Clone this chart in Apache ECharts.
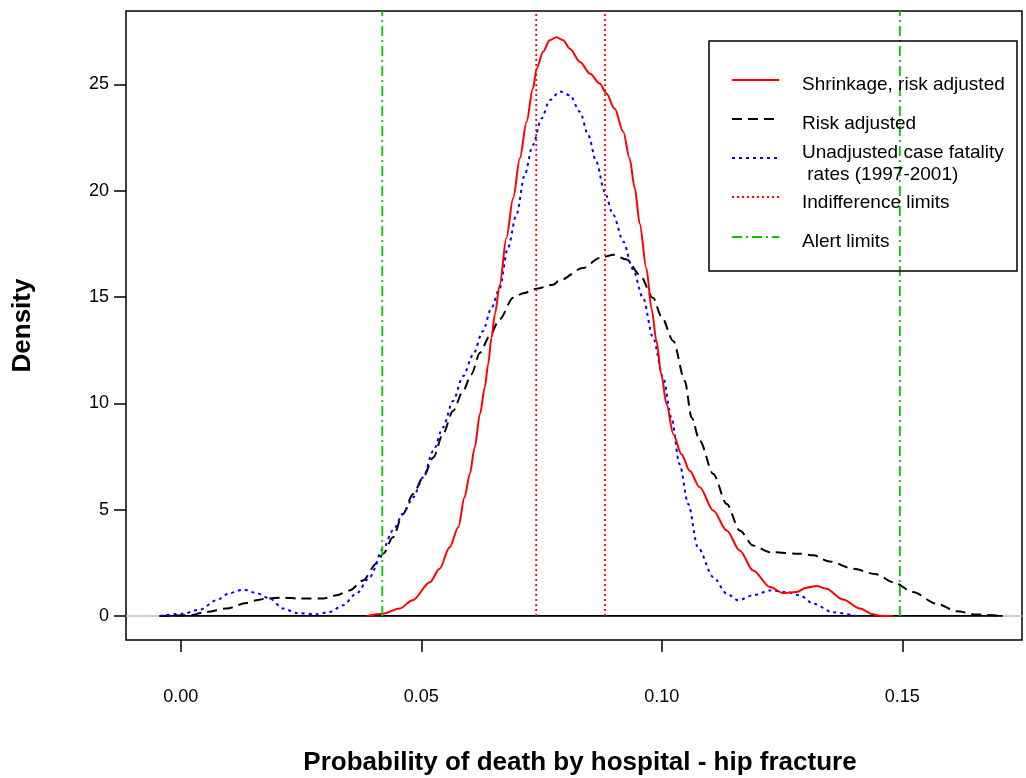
<!DOCTYPE html>
<html>
<head>
<meta charset="utf-8">
<script src="https://cdn.jsdelivr.net/npm/echarts@6/dist/echarts.min.js"></script>
<style>html,body{margin:0;padding:0;background:#fff}#c{width:1026px;height:778px}</style>
</head>
<body>
<div id="c"></div>
<script>
// ---------- data ----------
const xTicks = [0, 0.05, 0.10, 0.15];
const yTicks = [0, 5, 10, 15, 20, 25];
const xRange = [-0.01138, 0.17489];
const yRange = [-1.13, 28.45];

const shrinkX = [0.0387,0.0420,0.0455,0.0482,0.0518,0.0538,0.0559,0.0577,0.0590,0.0601,0.0611,0.0622,0.0632,0.0639,0.0646,0.0653,0.0663,0.0677,0.0691,0.0705,0.0719,0.0732,0.0740,0.0753,0.0767,0.0781,0.0795,0.0809,0.0830,0.0851,0.0871,0.0885,0.0902,0.0920,0.0933,0.0944,0.0954,0.0968,0.0979,0.0989,0.0999,0.1010,0.1024,0.1041,0.1058,0.1079,0.1107,0.1135,0.1162,0.1190,0.1225,0.1252,0.1280,0.1301,0.1322,0.1342,0.1377,0.1412,0.1439,0.1453,0.1480];
const shrinkY = [0,0.11,0.35,0.74,1.59,2.22,3.23,4.17,5.58,6.68,7.92,9.49,10.74,11.83,13.08,14.18,15.55,17.77,19.64,21.52,23.24,24.80,25.74,26.52,27.07,27.22,27.07,26.68,26.05,25.50,25.04,24.57,23.86,22.77,21.52,20.11,18.46,16.35,14.43,12.93,11.36,9.96,8.55,7.61,6.83,6.05,4.96,4.02,3.08,2.14,1.36,1.08,1.13,1.33,1.41,1.28,0.77,0.35,0.08,0.01,0];

const riskX = [-0.0044,0.0019,0.0053,0.0095,0.0137,0.0157,0.0178,0.0213,0.0247,0.0296,0.0324,0.0351,0.0379,0.0407,0.0421,0.0441,0.0462,0.0483,0.0504,0.0525,0.0545,0.0566,0.0587,0.0604,0.0622,0.0642,0.0663,0.0691,0.0712,0.0740,0.0774,0.0788,0.0836,0.0871,0.0899,0.0927,0.0954,0.0982,0.0999,0.1024,0.1048,0.1062,0.1079,0.1107,0.1135,0.1162,0.1190,0.1225,0.1287,0.1315,0.1349,0.1398,0.1446,0.1481,0.1522,0.1571,0.1613,0.1654,0.1709];
const riskY = [0,0.03,0.19,0.35,0.61,0.74,0.82,0.86,0.82,0.82,0.97,1.20,1.67,2.47,2.93,3.70,4.80,5.74,6.52,7.45,8.55,9.64,10.58,11.36,12.38,13.16,13.96,14.96,15.18,15.39,15.58,15.79,16.36,16.83,16.99,16.76,16.05,14.96,14.10,12.93,11.05,9.33,8.24,6.68,5.27,4.02,3.31,3.00,2.93,2.85,2.56,2.22,1.96,1.59,1.13,0.58,0.22,0.07,0];

const unadjX = [-0.0044,0.0005,0.0040,0.0074,0.0102,0.0130,0.0157,0.0185,0.0213,0.0241,0.0282,0.0310,0.0337,0.0365,0.0393,0.0421,0.0441,0.0462,0.0483,0.0504,0.0525,0.0545,0.0566,0.0587,0.0608,0.0628,0.0646,0.0663,0.0680,0.0698,0.0715,0.0732,0.0750,0.0767,0.0788,0.0809,0.0830,0.0847,0.0864,0.0881,0.0899,0.0920,0.0940,0.0961,0.0982,0.1003,0.1020,0.1037,0.1055,0.1075,0.1107,0.1135,0.1159,0.1190,0.1225,0.1259,0.1287,0.1315,0.1356,0.1405];
const unadjY = [0,0.11,0.30,0.74,1.08,1.24,1.08,0.82,0.35,0.14,0.08,0.19,0.50,1.05,1.83,3.17,4.02,4.80,5.58,6.52,7.77,8.86,10.11,11.28,12.30,13.39,14.49,15.42,17.30,18.87,20.74,22.15,23.39,24.26,24.66,24.49,23.71,22.62,21.36,19.96,18.87,17.61,16.30,14.96,13.08,11.20,9.33,7.14,5.27,3.23,1.83,1.05,0.74,0.97,1.20,1.13,0.97,0.58,0.17,0];

const indifferenceLimits = [0.0739, 0.0882];
const alertLimits = [0.0419, 0.1495];

const legendLabels = ['Shrinkage, risk adjusted', 'Risk adjusted', 'Unadjusted case fatality\n rates (1997-2001)', 'Indifference limits', 'Alert limits'];
const xTitle = 'Probability of death by hospital - hip fracture';
const yTitle = 'Density';

// ---------- build ----------
const zip = (xs, ys) => xs.map((x, i) => [x, ys[i]]);
const FONT = '"Liberation Sans", Arial, sans-serif';

const vline = (x, color, type, name) => ({
  type: 'line', name, data: [[x, 0], [x, yRange[1]]], symbol: 'none',
  lineStyle: { color, width: 1.8, type }, silent: true, z: 4
});

const series = [
  { type: 'line', name: 'zero', data: [[xRange[0], 0], [xRange[1], 0]], symbol: 'none',
    lineStyle: { color: '#bebebe', width: 1.5 }, z: 1, silent: true },
  { type: 'line', name: 'support', data: [[riskX[0], 0], [riskX[riskX.length - 1], 0]], symbol: 'none',
    lineStyle: { color: '#000', width: 1.8 }, z: 2, silent: true },
  { type: 'line', name: legendLabels[1], data: zip(riskX, riskY), symbol: 'none', smooth: 0.3, smoothMonotone: 'x',
    lineStyle: { color: '#000', width: 2, type: [10, 6] }, z: 3 },
  { type: 'line', name: legendLabels[2], data: zip(unadjX, unadjY), symbol: 'none', smooth: 0.3, smoothMonotone: 'x',
    lineStyle: { color: '#0000ff', width: 2, type: [3, 4] }, z: 3 },
  { type: 'line', name: legendLabels[0], data: zip(shrinkX, shrinkY), symbol: 'none', smooth: 0.3, smoothMonotone: 'x',
    lineStyle: { color: '#ff0000', width: 2 }, z: 3 }
];
indifferenceLimits.forEach(x => series.push(vline(x, '#ff0000', [2, 3], legendLabels[3])));
alertLimits.forEach(x => series.push(vline(x, '#00cd00', [10, 4, 2, 4], legendLabels[4])));

// legend (drawn as graphic)
const LX = 709, LY = 41, LW = 308, LH = 230;
const legendRows = [
  { lineY: 80, textY: 85, color: '#ff0000', dash: null },
  { lineY: 119, textY: 124, color: '#000', dash: [10, 6] },
  { lineY: 158, textY: 164, color: '#0000ff', dash: [3, 4] },
  { lineY: 197, textY: 203, color: '#ff0000', dash: [2, 3] },
  { lineY: 237, textY: 242, color: '#00cd00', dash: [10, 4, 2, 4] }
];
const graphic = [{ type: 'rect', shape: { x: LX, y: LY, width: LW, height: LH },
  style: { fill: 'none', stroke: '#000', lineWidth: 1.5 }, z: 10 }];
legendRows.forEach((r, i) => {
  graphic.push({ type: 'line', shape: { x1: 732, y1: r.lineY, x2: 779, y2: r.lineY },
    style: { stroke: r.color, lineWidth: 2, lineDash: r.dash || null }, z: 10 });
  graphic.push({ type: 'text', x: 802, y: r.textY,
    style: { text: legendLabels[i], font: '19px ' + FONT, fill: '#000', verticalAlign: 'middle', lineHeight: 22 }, z: 10 });
});

const chart = echarts.init(document.getElementById('c'), null, { renderer: 'canvas' });
chart.setOption({
  animation: false,
  backgroundColor: '#fff',
  grid: { left: 126, right: 4, top: 11, bottom: 138, show: true, borderColor: '#000', borderWidth: 1.5,
    backgroundColor: 'transparent', containLabel: false, outerBoundsMode: 'none' },
  xAxis: {
    type: 'value', min: xRange[0], max: xRange[1],
    axisLine: { show: false, onZero: false },
    splitLine: { show: false },
    axisTick: { show: true, inside: false, length: 12, lineStyle: { color: '#000', width: 1.5 }, customValues: xTicks },
    axisLabel: { customValues: xTicks, formatter: v => v.toFixed(2), margin: 48, fontSize: 18, color: '#000', fontFamily: FONT },
    name: xTitle, nameLocation: 'middle', nameGap: 110,
    nameTextStyle: { fontSize: 26, fontWeight: 'bold', color: '#000', fontFamily: FONT, padding: [0, 0, 0, 12] }
  },
  yAxis: {
    type: 'value', min: yRange[0], max: yRange[1],
    axisLine: { show: false, onZero: false },
    splitLine: { show: false },
    axisTick: { show: true, inside: false, length: 12, lineStyle: { color: '#000', width: 1.5 }, customValues: yTicks },
    axisLabel: { customValues: yTicks, margin: 17, fontSize: 18, color: '#000', fontFamily: FONT },
    name: yTitle, nameLocation: 'middle', nameGap: 90, nameRotate: 90,
    nameTextStyle: { fontSize: 26, fontWeight: 'bold', color: '#000', fontFamily: FONT }
  },
  series,
  graphic
});
</script>
</body>
</html>
